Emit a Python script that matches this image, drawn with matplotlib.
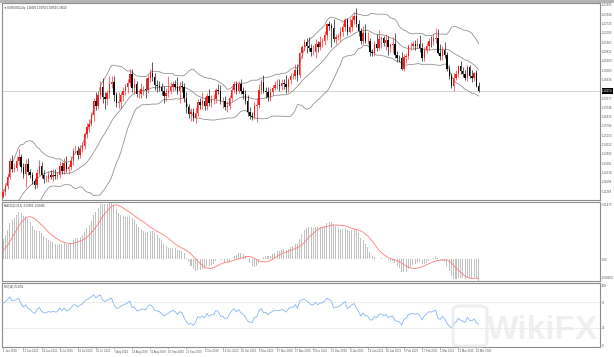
import numpy as np
import matplotlib
matplotlib.use("Agg")
import matplotlib.pyplot as plt
from matplotlib.patches import Rectangle, FancyBboxPatch
from matplotlib import transforms

plt.rcParams["font.family"] = ["Liberation Sans", "DejaVu Sans"]

# ---------------- data (EURUSD daily) ----------------
# closes before the visible window (needed only to warm up the indicators)
history_closes = [1.0960, 1.0855, 1.0805, 1.0795, 1.0890, 1.0855, 1.0935, 1.0935,
                  1.0915, 1.0975, 1.0910, 1.0865, 1.0875, 1.0860, 1.0855, 1.0825,
                  1.0775, 1.0820, 1.0825, 1.0820, 1.0875, 1.0955, 1.0980, 1.0905,
                  1.0835, 1.0795, 1.0830, 1.0840, 1.0805, 1.0850, 1.0815, 1.0805,
                  1.0820, 1.0915, 1.0925, 1.0975, 1.0950, 1.0900, 1.0900, 1.0980,
                  1.1005, 1.1080, 1.1100]

close_jun = [1.1134, 1.1170, 1.1235, 1.1339, 1.1290, 1.1295, 1.1345, 1.1370, 1.1300, 1.1255,
             1.1320, 1.1265, 1.1245, 1.1205, 1.1180, 1.1260, 1.1310, 1.1250, 1.1220, 1.1220,
             1.1245, 1.1235]
close_jul = [1.1250, 1.1240, 1.1245, 1.1310, 1.1275, 1.1330, 1.1285, 1.1300, 1.1345, 1.1410,
             1.1410, 1.1385, 1.1425, 1.1445, 1.1525, 1.1570, 1.1595, 1.1655, 1.1750, 1.1715,
             1.1790, 1.1845, 1.1775]
close_aug = [1.1760, 1.1800, 1.1860, 1.1875, 1.1785, 1.1735, 1.1740, 1.1785, 1.1815, 1.1840,
             1.1870, 1.1930, 1.1835, 1.1860, 1.1795, 1.1795, 1.1830, 1.1830, 1.1820, 1.1905,
             1.1935]
close_sep = [1.1910, 1.1855, 1.1850, 1.1840, 1.1815, 1.1780, 1.1800, 1.1815, 1.1845, 1.1860,
             1.1845, 1.1815, 1.1850, 1.1840, 1.1770, 1.1705, 1.1660, 1.1670, 1.1630, 1.1665,
             1.1740, 1.1720]
close_oct = [1.1745, 1.1715, 1.1780, 1.1735, 1.1760, 1.1760, 1.1825, 1.1815, 1.1745, 1.1745,
             1.1705, 1.1715, 1.1770, 1.1820, 1.1860, 1.1815, 1.1860, 1.1815, 1.1795, 1.1745,
             1.1675, 1.1645]
close_nov = [1.1640, 1.1715, 1.1720, 1.1825, 1.1875, 1.1815, 1.1810, 1.1775, 1.1810, 1.1835,
             1.1855, 1.1855, 1.1850, 1.1870, 1.1860, 1.1840, 1.1890, 1.1915, 1.1915, 1.1960,
             1.1925]
close_dec = [1.2070, 1.2115, 1.2145, 1.2120, 1.2105, 1.2080, 1.2080, 1.2135, 1.2110, 1.2145,
             1.2150, 1.2195, 1.2265, 1.2255, 1.2240, 1.2165, 1.2180, 1.2185, 1.2215, 1.2250,
             1.2295, 1.2215]
close_jan = [1.2250, 1.2295, 1.2325, 1.2270, 1.2220, 1.2150, 1.2205, 1.2155, 1.2155, 1.2080,
             1.2075, 1.2130, 1.2105, 1.2165, 1.2170, 1.2140, 1.2160, 1.2110, 1.2125, 1.2135]
close_feb = [1.2060, 1.2040, 1.2035, 1.1965, 1.2045, 1.2050, 1.2120, 1.2120, 1.2130, 1.2120,
             1.2130, 1.2105, 1.2040, 1.2090, 1.2120, 1.2155, 1.2150, 1.2165, 1.2175, 1.2075]
close_mar = [1.2050, 1.2090, 1.2060, 1.1965, 1.1915, 1.1850, 1.1900, 1.1930, 1.1985, 1.1950,
             1.1930, 1.1900, 1.1975, 1.1915, 1.1905, 1.1935, 1.1850, 1.1815]

# upper / lower shadow lengths in pips
wick_up_pips = [20, 25, 20, 25, 45, 30, 30, 52, 20, 25, 35, 45, 20, 20, 25, 25, 40, 25, 30, 25, 30, 35,
                40, 35, 20, 35, 25, 35, 45, 20, 30, 20, 40, 30, 25, 25, 15, 30, 30, 20, 20, 55, 20, 35, 60,
                30, 20, 55, 40, 40, 25, 65, 25, 30, 25, 25, 35, 35, 45, 25, 30, 40, 20, 70, 20, 30,
                76, 25, 35, 30, 30, 35, 35, 100, 30, 25, 30, 65, 25, 35, 30, 35, 25, 30, 30, 40, 20, 30,
                60, 30, 20, 50, 25, 35, 10, 35, 40, 30, 35, 30, 20, 20, 20, 25, 20, 35, 30, 25, 40, 30,
                25, 25, 50, 35, 20, 45, 25, 30, 25, 20, 25, 40, 40, 25, 25, 65, 15, 25, 25, 40, 40,
                10, 10, 20, 30, 60, 30, 45, 30, 20, 40, 25, 25, 10, 20, 20, 60, 20, 25, 35, 25, 15, 15,
                60, 25, 24, 50, 25, 20, 50, 65, 60, 20, 20, 20, 70, 60, 15, 20, 40, 30, 15, 45,
                75, 25, 20, 45, 20, 25, 15, 25, 25, 30, 40, 65, 35, 20, 25, 20, 30, 35, 68, 60,
                60, 30, 55, 20, 25, 20, 40, 25, 5, 35, 25, 25, 15, 15, 40, 10, 20, 25]
wick_dn_pips = [7, 20, 15, 15, 20, 25, 20, 30, 30, 25, 90, 20, 20, 20, 25, 20, 15, 25, 25, 20, 20, 15,
                30, 20, 20, 15, 20, 20, 20, 30, 20, 30, 15, 30, 25, 25, 25, 30, 35, 15, 40, 30, 25, 30, 40,
                65, 40, 30, 25, 35, 25, 35, 45, 40, 25, 40, 20, 30, 40, 20, 30, 25, 40, 55, 20, 30,
                25, 35, 40, 25, 25, 45, 30, 25, 20, 30, 20, 20, 78, 30, 30, 40, 30, 45, 20, 30, 20, 25,
                25, 30, 30, 20, 30, 30, 25, 20, 20, 45, 20, 30, 25, 25, 20, 20, 15, 20, 35, 20, 30, 20,
                20, 15, 112, 20, 30, 15, 40, 30, 30, 20, 15, 25, 35, 30, 30, 40, 30, 25, 20, 20, 40,
                20, 30, 30, 45, 20, 30, 20, 40, 30, 20, 35, 25, 35, 25, 125, 20, 30, 20, 30, 30, 30, 20,
                10, 30, 30, 20, 30, 20, 20, 15, 20, 30, 20, 25, 20, 15, 60, 20, 50, 50, 30, 50,
                25, 30, 25, 10, 15, 40, 20, 30, 20, 30, 15, 25, 20, 25, 20, 30, 40, 25, 25, 10,
                25, 25, 20, 15, 20, 15, 35, 10, 20, 20, 20, 10, 15, 15, 30, 20, 10, 10]

date_labels = ["1 Jun 2020", "12 Jun 2020", "24 Jun 2020", "6 Jul 2020", "16 Jul 2020",
               "28 Jul 2020", "7 Aug 2020", "19 Aug 2020", "31 Aug 2020", "10 Sep 2020",
               "22 Sep 2020", "2 Oct 2020", "14 Oct 2020", "26 Oct 2020", "5 Nov 2020",
               "17 Nov 2020", "27 Nov 2020", "9 Dec 2020", "21 Dec 2020", "4 Jan 2021",
               "14 Jan 2021", "26 Jan 2021", "5 Feb 2021", "17 Feb 2021", "1 Mar 2021",
               "11 Mar 2021", "23 Mar 2021"]
date_label_bars = [0] + list(range(9, 210, 8))

symbol_title = "EURUSD,Daily"

# ---------------- derived series ----------------
closes = np.array(close_jun + close_jul + close_aug + close_sep + close_oct + close_nov +
                  close_dec + close_jan + close_feb + close_mar)
hist_c = np.array(history_closes)
opens = np.concatenate([[hist_c[-1]], closes[:-1]])
highs = np.maximum(opens, closes) + np.array(wick_up_pips) * 1e-4
lows = np.minimum(opens, closes) - np.array(wick_dn_pips) * 1e-4
n = len(closes)
full = np.concatenate([hist_c, closes])
nh = len(hist_c)


def ema(x, p):
    a = 2.0 / (p + 1)
    out = np.empty_like(x)
    out[0] = x[0]
    for i in range(1, len(x)):
        out[i] = out[i - 1] + a * (x[i] - out[i - 1])
    return out


def sma(x, p):
    out = np.full_like(x, np.nan)
    for i in range(p - 1, len(x)):
        out[i] = x[i - p + 1:i + 1].mean()
    return out


macd_main = ema(full, 12) - ema(full, 26)
macd_sig = sma(macd_main, 9)

bb_mid = sma(full, 20)
bb_std = np.full_like(full, np.nan)
for i in range(19, len(full)):
    bb_std[i] = full[i - 19:i + 1].std()
bb_up = bb_mid + 2 * bb_std
bb_lo = bb_mid - 2 * bb_std

d = np.diff(full, prepend=full[0])
gain = np.clip(d, 0, None)
loss = np.clip(-d, 0, None)
ag = np.zeros_like(full)
al = np.zeros_like(full)
ag[14] = gain[1:15].mean()
al[14] = loss[1:15].mean()
for i in range(15, len(full)):
    ag[i] = (ag[i - 1] * 13 + gain[i]) / 14
    al[i] = (al[i - 1] * 13 + loss[i]) / 14
rsi = 100 - 100 / (1 + ag / np.where(al == 0, 1e-12, al))

macd_v = macd_main[nh:]
sig_v = macd_sig[nh:]
rsi_v = rsi[nh:]
up_v, mid_v, lo_v = bb_up[nh:], bb_mid[nh:], bb_lo[nh:]
x = np.arange(n)

# ---------------- figure ----------------
W, H = 614, 357
fig = plt.figure(figsize=(W / 100, H / 100), dpi=100)
fig.patch.set_facecolor("white")


def ax_at(x0, y0, x1, y1):
    return fig.add_axes([x0 / W, 1 - y1 / H, (x1 - x0) / W, (y1 - y0) / H])


px_per_bar = 2.265
left_px, right_px = 2, 600
xmin = -1.0 / px_per_bar
xmax = xmin + (right_px - left_px) / px_per_bar

ax1 = ax_at(left_px, 3, right_px, 200)
ax2 = ax_at(left_px, 202, right_px, 281)
ax3 = ax_at(left_px, 283, right_px, 347)

spine_c = "#8c8c8c"
lab_c = "#555555"
fs = 2.1
for ax in (ax1, ax2, ax3):
    ax.set_facecolor("white")
    ax.set_xlim(xmin, xmax)
    for s in ax.spines.values():
        s.set_color(spine_c)
        s.set_linewidth(0.8)
    ax.yaxis.tick_right()
    ax.tick_params(axis="y", which="both", direction="out", length=1.0, width=0.4,
                   colors=spine_c, labelcolor=lab_c, labelsize=fs, pad=0.5)
    ax.tick_params(axis="x", which="both", bottom=False, labelbottom=False)

# --- main price panel ---
ylo, yhi = 1.1078, 1.2410
ax1.set_ylim(ylo, yhi)
last = closes[-1]
ppx = (yhi - ylo) / 197
ticks = yhi - 1.7 * ppx - 9.33 * ppx * np.arange(0, 21)
ticks = ticks[(ticks > ylo) & (np.abs(ticks - last) > 4 * ppx)]
ax1.set_yticks(ticks)
ax1.set_yticklabels([f"{t:.5f}" for t in ticks])

ax1.plot(x, up_v, color="#8a8a8a", lw=0.55, zorder=2)
ax1.plot(x, mid_v, color="#8a8a8a", lw=0.55, zorder=2)
ax1.plot(x, lo_v, color="#8a8a8a", lw=0.55, zorder=2)

bull = closes >= opens
cols = np.where(bull, "#ff1a1a", "#000000")
ax1.vlines(x, lows, highs, colors=cols, lw=0.45, zorder=3)
body = np.maximum(np.abs(closes - opens), 0.00012)
ax1.bar(x, body, bottom=np.minimum(opens, closes), width=0.62, color=cols, lw=0, zorder=4)

ax1.axhline(last, color="#c4c4c4", lw=0.5, zorder=1)
tr = transforms.blended_transform_factory(ax1.transAxes, ax1.transData)
ax1.text(1.0035, last, f"{last:.5f}", transform=tr, fontsize=fs, color="white",
         va="center", ha="left", clip_on=False, zorder=10,
         bbox=dict(boxstyle="square,pad=0.2", fc="black", ec="black", lw=0))

ax1.text(0.004, 0.986,
         f"\u25bc {symbol_title}  {opens[-1]:.5f} {highs[-1]:.5f} {lows[-1]:.5f} {last:.5f}",
         transform=ax1.transAxes, fontsize=1.9, color="#333333", va="top", ha="left")

# --- MACD panel ---
vmin = min(macd_v.min(), np.nanmin(sig_v))
vmax = max(macd_v.max(), np.nanmax(sig_v))
ax2.set_ylim(vmin, vmax)
ax2.bar(x, macd_v, width=0.45, color="#c0c0c0", lw=0, zorder=2)
ax2.plot(x, sig_v, color="#ff7b7b", lw=0.6, zorder=3)
ax2.set_yticks([vmax - 0.03 * (vmax - vmin), 0.0, vmin + 0.04 * (vmax - vmin)])
ax2.set_yticklabels([f"{vmax:.5f}", "0.00", f"{vmin:.5f}"])
ax2.text(0.004, 0.975, f"MACD(12,26,9) {macd_v[-1]:.5f} {sig_v[-1]:.5f}",
         transform=ax2.transAxes, fontsize=1.9, color="#333333", va="top", ha="left")

# --- RSI panel ---
ax3.set_ylim(0, 100)
ax3.axhline(70, color="#bcbcbc", lw=0.45, ls=(0, (1, 1.5)), zorder=1)
ax3.axhline(30, color="#bcbcbc", lw=0.45, ls=(0, (1, 1.5)), zorder=1)
ax3.plot(x, rsi_v, color="#86b6f2", lw=0.6, zorder=3)
ax3.set_yticks([96, 70, 30, 3])
ax3.set_yticklabels(["100", "70", "30", "0"])
ax3.text(0.004, 0.965, f"RSI(14) {rsi_v[-1]:.4f}",
         transform=ax3.transAxes, fontsize=1.9, color="#333333", va="top", ha="left")

ax3.tick_params(axis="x", which="both", bottom=True, labelbottom=True, direction="out",
                length=1.2, width=0.4, colors=spine_c, labelcolor=lab_c, labelsize=2.0, pad=0.6)
ax3.set_xticks(date_label_bars)
ax3.set_xticklabels(date_labels, ha="left")

# watermark
fig.patches.append(FancyBboxPatch((453 / W, 1 - 346 / H), 34 / W, 40 / H,
                                  boxstyle="round,pad=0,rounding_size=0.012",
                                  transform=fig.transFigure, fc="none", ec="#e8e8e8",
                                  lw=2.2, alpha=0.7, zorder=20))
fig.text(598 / W, 1 - 346 / H, "WikiFX", fontsize=24, fontweight="bold", color="#e9e9e9",
         alpha=0.7, ha="right", va="bottom", zorder=20)

# top frame band
fig.patches.append(Rectangle((0, 1 - 2.5 / H), 1, 2.5 / H, transform=fig.transFigure,
                             fc="#b4b4b4", ec="none", zorder=30))

fig.savefig("out.png", dpi=100, facecolor="white")
